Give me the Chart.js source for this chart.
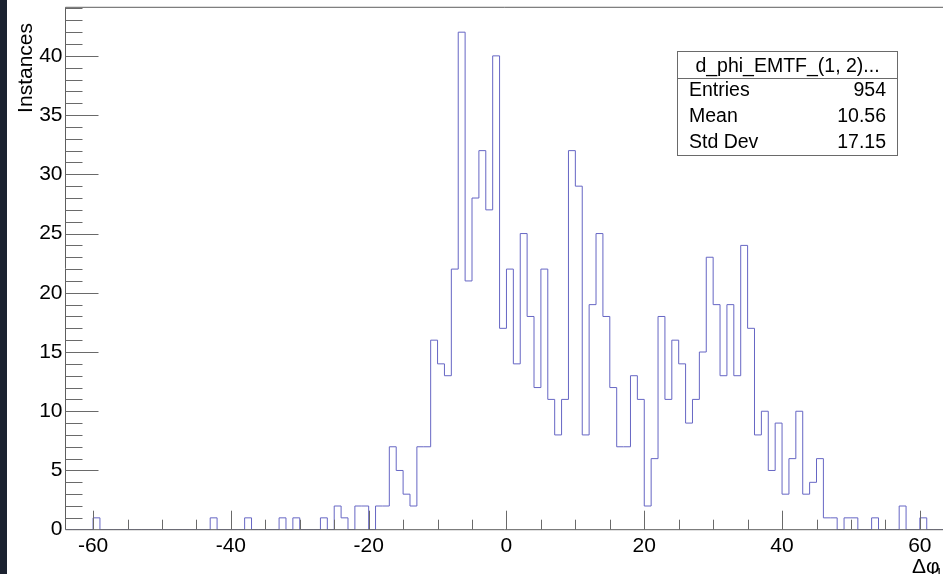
<!DOCTYPE html>
<html>
<head>
<meta charset="utf-8">
<script src="https://cdn.jsdelivr.net/npm/chart.js@4.4.0/dist/chart.umd.min.js"></script>
<style>
  html, body { margin: 0; padding: 0; background: #fff; }
  #wrap { width: 943px; height: 574px; }
</style>
</head>
<body>
<div id="wrap"><canvas id="histo" width="943" height="574"></canvas></div>
<script>
// histogram d_phi_EMTF_(1, 2), bins of width 1 starting at -64
const binStart = -64;
const counts = [
  0, 0, 0, 0, 1, 0, 0, 0, 0, 0, 0, 0, 0, 0, 0, 0,          // -64 .. -49
  0, 0, 0, 0, 0, 1, 0, 0, 0, 0, 1, 0, 0, 0, 0, 1,          // -48 .. -33
  0, 1, 0, 0, 0, 1, 0, 2, 1, 0, 2, 2, 0, 2, 2, 7,          // -32 .. -17
  5, 3, 2, 7, 7, 16, 14, 13, 22, 42, 21, 28, 32, 27, 40, 17, // -16 .. -1
  22, 14, 25, 18, 12, 22, 11, 8, 11, 32, 29, 8, 19, 25, 18, 12, // 0 .. 15
  7, 7, 13, 11, 2, 6, 18, 11, 16, 14, 9, 11, 15, 23, 19, 13,   // 16 .. 31
  19, 13, 24, 17, 8, 10, 5, 9, 3, 6, 10, 3, 4, 6, 1, 1,        // 32 .. 47
  0, 1, 1, 0, 0, 1, 0, 0, 0, 2, 0, 0, 1, 0, 0, 0               // 48 .. 63
];
const xTicks = [-60, -40, -20, 0, 20, 40, 60];
const yTicks = [0, 5, 10, 15, 20, 25, 30, 35, 40];
const statsTitle = "d_phi_EMTF_(1, 2)...";
const statsLabels = ["Entries", "Mean", "Std Dev"];
const statsValues = ["954", "10.56", "17.15"];

const FONT = "'Liberation Sans', Arial, sans-serif";

// step outline points: one per bin low edge, plus the closing edge
const points = counts.map((c, i) => ({ x: binStart + i, y: c }));
points.push({ x: binStart + counts.length, y: 0 });

// frame, inside ticks (ROOT style), titles and stats box
const rootDecor = {
  id: "rootDecor",
  beforeDraw(chart) {
    const ctx = chart.ctx;
    ctx.save();
    ctx.fillStyle = "#ffffff";
    ctx.fillRect(0, 0, chart.width, chart.height);
    ctx.fillStyle = "#1b2230";
    ctx.fillRect(0, 0, 7, chart.height);
    ctx.restore();
  },
  afterDatasetsDraw(chart) {
    const { ctx, chartArea: a, scales: { x, y } } = chart;
    ctx.save();
    ctx.strokeStyle = "#5e5e5e";
    ctx.lineWidth = 1;

    // frame
    ctx.beginPath();
    ctx.moveTo(a.left, a.top);
    ctx.lineTo(chart.width + 5, a.top);
    ctx.moveTo(a.left, a.top);
    ctx.lineTo(a.left, a.bottom);
    ctx.lineTo(chart.width + 5, a.bottom);
    ctx.stroke();

    // x ticks: major every 20, minor every 5
    ctx.strokeStyle = "#6a6a6a";
    ctx.beginPath();
    for (let v = -60; v <= 60; v += 5) {
      const px = Math.round(x.getPixelForValue(v)) + 0.5;
      const len = v % 20 === 0 ? 19 : 10;
      ctx.moveTo(px, a.bottom);
      ctx.lineTo(px, a.bottom - len);
    }
    // y ticks: major every 5, minor every 1
    for (let v = 1; v <= 44; v += 1) {
      const py = Math.round(y.getPixelForValue(v)) + 0.5;
      const len = v % 5 === 0 ? 33 : 17;
      ctx.moveTo(a.left, py);
      ctx.lineTo(a.left + len, py);
    }
    ctx.stroke();

    // axis titles
    ctx.fillStyle = "#000";
    ctx.font = "21px " + FONT;
    ctx.save();
    ctx.translate(32, 23);
    ctx.rotate(-Math.PI / 2);
    ctx.textAlign = "right";
    ctx.textBaseline = "alphabetic";
    ctx.fillText("Instances", 0, 0);
    ctx.restore();

    ctx.textAlign = "left";
    ctx.textBaseline = "alphabetic";
    ctx.fillText("Δφ", 912, 573);
    ctx.font = "14px " + FONT;
    ctx.fillText("12", 935, 578);

    // stats box
    ctx.fillStyle = "#fff";
    ctx.fillRect(677.5, 51.5, 220, 104);
    ctx.strokeStyle = "#6a6a6a";
    ctx.strokeRect(677.5, 51.5, 220, 104);
    ctx.beginPath();
    ctx.moveTo(677.5, 78.5);
    ctx.lineTo(897.5, 78.5);
    ctx.stroke();

    ctx.fillStyle = "#000";
    ctx.font = "19.5px " + FONT;
    ctx.textAlign = "center";
    ctx.fillText(statsTitle, 787.5, 72);
    const rowY = [96, 122, 148];
    statsLabels.forEach((lab, i) => {
      ctx.textAlign = "left";
      ctx.fillText(lab, 689, rowY[i]);
      ctx.textAlign = "right";
      ctx.fillText(statsValues[i], 886, rowY[i]);
    });
    ctx.restore();
  }
};

new Chart(document.getElementById("histo"), {
  type: "line",
  data: {
    datasets: [{
      data: points,
      stepped: "before",
      borderColor: "#6666c4",
      borderWidth: 1,
      pointRadius: 0,
      fill: false,
      tension: 0
    }]
  },
  options: {
    responsive: false,
    animation: false,
    devicePixelRatio: 1,
    parsing: false,
    layout: { padding: { left: 7, top: 7.3, right: 0, bottom: 0 } },
    plugins: { legend: { display: false }, tooltip: { enabled: false } },
    scales: {
      x: {
        type: "linear",
        min: -64,
        max: 63.36,
        afterBuildTicks: s => { s.ticks = xTicks.map(v => ({ value: v })); },
        afterFit: s => { s.height = 44.3; s.paddingLeft = 0; s.paddingRight = 0; },
        grid: { display: false, drawTicks: false },
        border: { display: false },
        ticks: {
          color: "#000",
          font: { family: FONT, size: 21 },
          padding: 4,
          maxRotation: 0,
          autoSkip: false
        }
      },
      y: {
        type: "linear",
        min: 0,
        max: 44.1,
        afterBuildTicks: s => { s.ticks = yTicks.map(v => ({ value: v })); },
        afterFit: s => { s.width = 58.5; s.paddingTop = 0; s.paddingBottom = 0; },
        grid: { display: false, drawTicks: false },
        border: { display: false },
        ticks: {
          color: "#000",
          font: { family: FONT, size: 21 },
          padding: 3,
          autoSkip: false
        }
      }
    }
  },
  plugins: [rootDecor]
});
</script>
</body>
</html>
